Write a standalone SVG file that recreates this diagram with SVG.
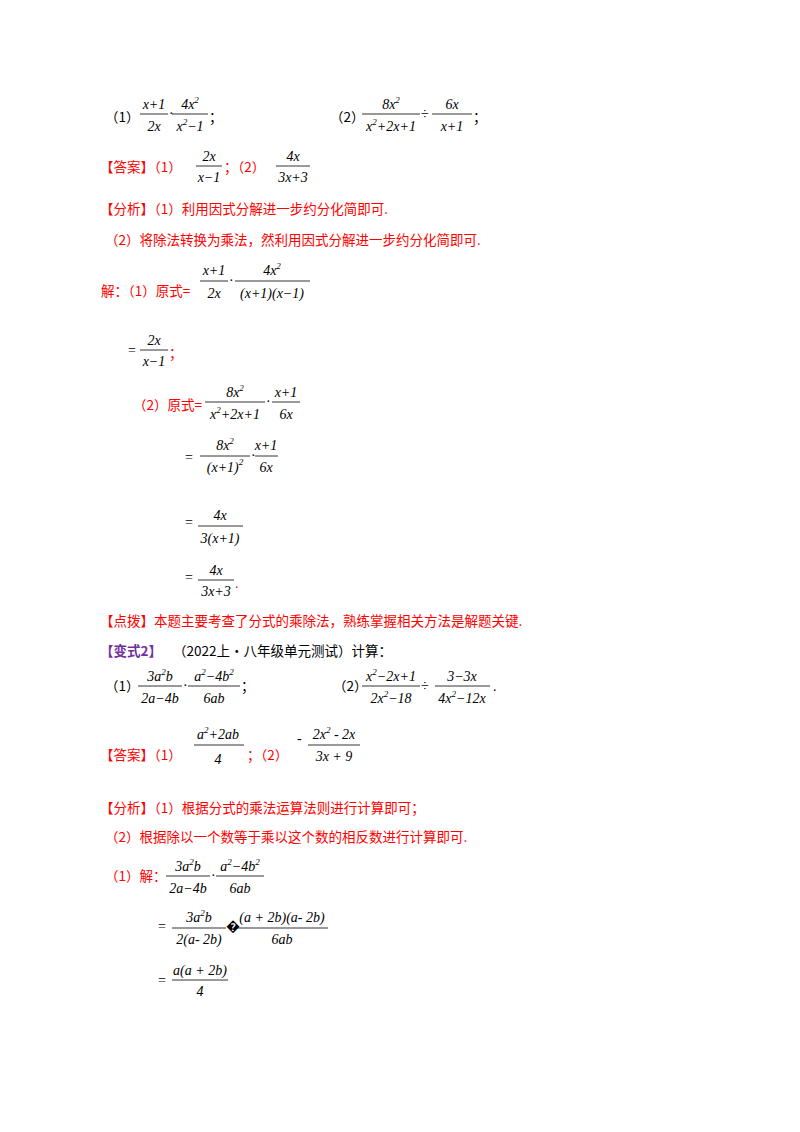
<svg xmlns="http://www.w3.org/2000/svg" width="800" height="1132" viewBox="0 0 800 1132">
<style>
text{font-family:"Liberation Serif","Noto Sans CJK SC",serif;font-size:14px;fill:#000}
.c{font-family:"Noto Sans CJK SC","Liberation Sans",sans-serif;font-size:13.5px}
.r{fill:#ff0000}
.p{fill:#7030a0;font-weight:bold}
.m{font-style:italic;text-anchor:middle}
.s{font-size:9px}
line{stroke:#000;stroke-width:0.8}
</style>
<rect width="800" height="1132" fill="#fff"/>
<text class="c" x="105" y="122">（1）</text>
<text class="m" x="154" y="109">x+1</text><line x1="140" y1="114" x2="168" y2="114"/><text class="m" x="154" y="131">2x</text>
<text x="169" y="118">·</text>
<text class="m" x="190" y="109">4x<tspan class="s" dy="-6">2</tspan></text><line x1="172" y1="114" x2="208" y2="114"/><text class="m" x="190" y="131">x<tspan class="s" dy="-6">2</tspan><tspan dy="6">−1</tspan></text>
<text class="c" x="209" y="122">；</text>
<text class="c" x="330" y="122">（2）</text>
<text class="m" x="391" y="109">8x<tspan class="s" dy="-6">2</tspan></text><line x1="362" y1="114" x2="420" y2="114"/><text class="m" x="391" y="131">x<tspan class="s" dy="-6">2</tspan><tspan dy="6">+2x+1</tspan></text>
<text x="421" y="119">÷</text>
<text class="m" x="452" y="109">6x</text><line x1="432" y1="114" x2="472" y2="114"/><text class="m" x="452" y="131">x+1</text>
<text class="c" x="473" y="122">；</text>

<text class="c r" x="100" y="172">【答案】（1）</text>
<text class="m" x="209" y="161">2x</text><line x1="196" y1="166" x2="222" y2="166"/><text class="m" x="209" y="182">x−1</text>
<text class="c r" x="224" y="172">；（2）</text>
<text class="m" x="293" y="161">4x</text><line x1="276" y1="166" x2="310" y2="166"/><text class="m" x="293" y="182">3x+3</text>

<text class="c r" x="100" y="214">【分析】（1）利用因式分解进一步约分化简即可.</text>
<text class="c r" x="105" y="245">（2）将除法转换为乘法，然利用因式分解进一步约分化简即可.</text>

<text class="c r" x="101" y="296">解：（1）原式=</text>
<text class="m" x="214" y="275">x+1</text><line x1="200" y1="281" x2="228" y2="281"/><text class="m" x="214" y="298">2x</text>
<text x="229" y="285">·</text>
<text class="m" x="272" y="275">4x<tspan class="s" dy="-6">2</tspan></text><line x1="235" y1="281" x2="310" y2="281"/><text class="m" x="272" y="298">(x+1)(x−1)</text>

<text x="128" y="355">=</text>
<text class="m" x="154" y="345">2x</text><line x1="140" y1="350" x2="168" y2="350"/><text class="m" x="154" y="366">x−1</text>
<text class="c r" x="169" y="358">；</text>

<text class="c r" x="133" y="410">（2）原式=</text>
<text class="m" x="235" y="397">8x<tspan class="s" dy="-6">2</tspan></text><line x1="205" y1="402" x2="265" y2="402"/><text class="m" x="235" y="419">x<tspan class="s" dy="-6">2</tspan><tspan dy="6">+2x+1</tspan></text>
<text x="266" y="406">·</text>
<text class="m" x="286" y="397">x+1</text><line x1="272" y1="402" x2="300" y2="402"/><text class="m" x="286" y="419">6x</text>

<text x="185" y="462">=</text>
<text class="m" x="225" y="450">8x<tspan class="s" dy="-6">2</tspan></text><line x1="200" y1="456" x2="250" y2="456"/><text class="m" x="225" y="472">(x+1)<tspan class="s" dy="-7">2</tspan></text>
<text x="251" y="460">·</text>
<text class="m" x="266" y="450">x+1</text><line x1="255" y1="456" x2="278" y2="456"/><text class="m" x="266" y="472">6x</text>

<text x="185" y="527">=</text>
<text class="m" x="220" y="520">4x</text><line x1="198" y1="526" x2="243" y2="526"/><text class="m" x="220" y="543">3(x+1)</text>

<text x="185" y="582">=</text>
<text class="m" x="216" y="575">4x</text><line x1="198" y1="580" x2="234" y2="580"/><text class="m" x="216" y="596">3x+3</text>
<text class="r" x="235" y="588">.</text>

<text class="c r" x="100" y="626">【点拨】本题主要考查了分式的乘除法，熟练掌握相关方法是解题关键.</text>
<text class="c p" x="100" y="656">【变式2】</text>
<text class="c" x="173" y="656">（2022上·八年级单元测试）计算：</text>

<text class="c" x="105" y="691">（1）</text>
<text class="m" x="160" y="681">3a<tspan class="s" dy="-6">2</tspan><tspan dy="6">b</tspan></text><line x1="138" y1="686" x2="182" y2="686"/><text class="m" x="160" y="703">2a−4b</text>
<text x="183" y="690">·</text>
<text class="m" x="214" y="681">a<tspan class="s" dy="-6">2</tspan><tspan dy="6">−4b</tspan><tspan class="s" dy="-6">2</tspan></text><line x1="188" y1="686" x2="240" y2="686"/><text class="m" x="214" y="703">6ab</text>
<text class="c" x="241" y="691">；</text>
<text class="c" x="333" y="691">（2）</text>
<text class="m" x="391" y="681">x<tspan class="s" dy="-6">2</tspan><tspan dy="6">−2x+1</tspan></text><line x1="362" y1="686" x2="420" y2="686"/><text class="m" x="391" y="703">2x<tspan class="s" dy="-6">2</tspan><tspan dy="6">−18</tspan></text>
<text x="421" y="691">÷</text>
<text class="m" x="462" y="681">3−3x</text><line x1="435" y1="686" x2="490" y2="686"/><text class="m" x="462" y="703">4x<tspan class="s" dy="-6">2</tspan><tspan dy="6">−12x</tspan></text>
<text x="493" y="691">.</text>

<text class="c r" x="100" y="760">【答案】（1）</text>
<text class="m" x="218" y="739">a<tspan class="s" dy="-6">2</tspan><tspan dy="6">+2ab</tspan></text><line x1="194" y1="745" x2="244" y2="745"/><text class="m" x="218" y="764">4</text>
<text class="c r" x="247" y="760">；（2）</text>
<text x="297" y="743">-</text>
<text class="m" x="334" y="739">2x<tspan class="s" dy="-6">2</tspan><tspan dy="6"> - 2x</tspan></text><line x1="308" y1="745" x2="360" y2="745"/><text class="m" x="334" y="761">3x + 9</text>

<text class="c r" x="100" y="813">【分析】（1）根据分式的乘法运算法则进行计算即可；</text>
<text class="c r" x="105" y="842">（2）根据除以一个数等于乘以这个数的相反数进行计算即可.</text>

<text class="c r" x="105" y="881">（1）解：</text>
<text class="m" x="188" y="871">3a<tspan class="s" dy="-6">2</tspan><tspan dy="6">b</tspan></text><line x1="166" y1="876" x2="210" y2="876"/><text class="m" x="188" y="893">2a−4b</text>
<text x="211" y="880">·</text>
<text class="m" x="240" y="871">a<tspan class="s" dy="-6">2</tspan><tspan dy="6">−4b</tspan><tspan class="s" dy="-6">2</tspan></text><line x1="216" y1="876" x2="264" y2="876"/><text class="m" x="240" y="893">6ab</text>

<text x="158" y="931">=</text>
<text class="m" x="199" y="922">3a<tspan class="s" dy="-6">2</tspan><tspan dy="6">b</tspan></text><line x1="172" y1="928" x2="226" y2="928"/><text class="m" x="199" y="944">2(a- 2b)</text>
<text x="226" y="931">�</text>
<text class="m" x="282" y="922">(a + 2b)(a- 2b)</text><line x1="236" y1="928" x2="328" y2="928"/><text class="m" x="282" y="944">6ab</text>

<text x="158" y="985">=</text>
<text class="m" x="200" y="975">a(a + 2b)</text><line x1="172" y1="980" x2="228" y2="980"/><text class="m" x="200" y="996">4</text>
</svg>
